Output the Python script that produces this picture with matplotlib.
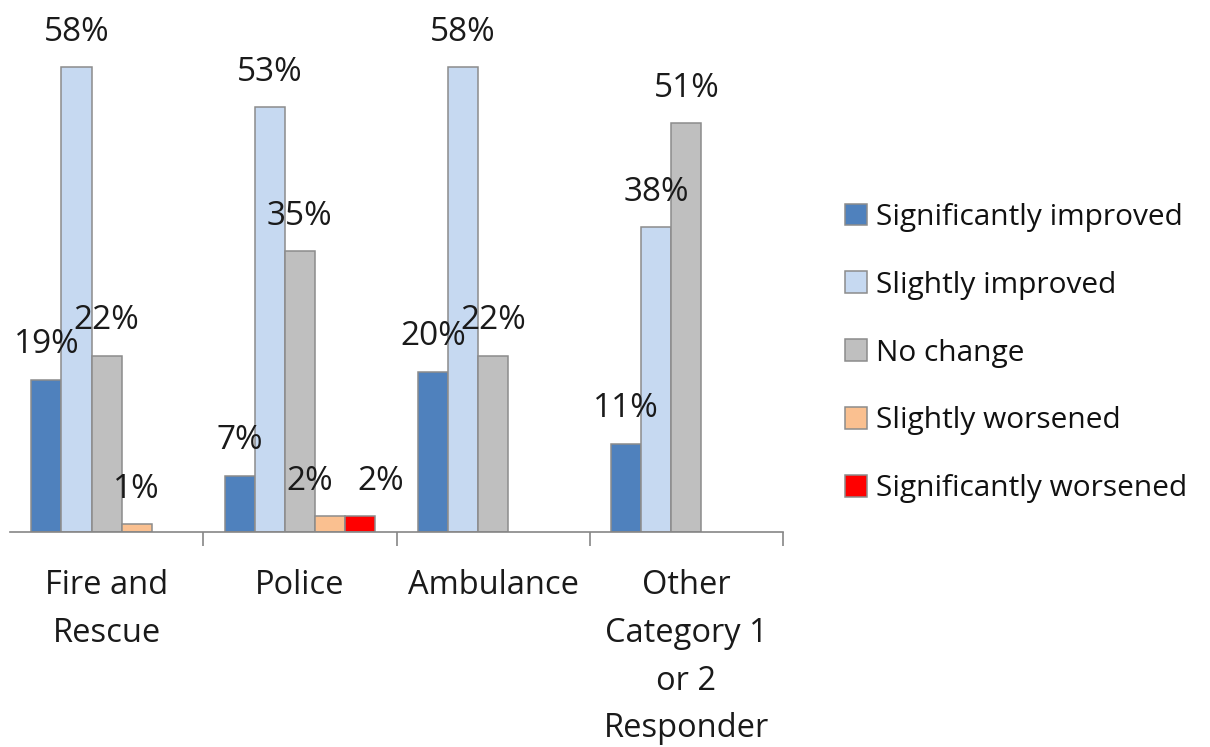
import matplotlib
matplotlib.use("Agg")
import matplotlib.pyplot as plt
import numpy as np

categories = ["Fire and\nRescue", "Police", "Ambulance", "Other\nCategory 1\nor 2\nResponder"]
series_names = ["Significantly improved", "Slightly improved", "No change",
                "Slightly worsened", "Significantly worsened"]
sig_improved = [19, 7, 20, 11]
slight_improved = [58, 53, 58, 38]
no_change = [22, 35, 22, 51]
slight_worsened = [1, 2, 0, 0]
sig_worsened = [0, 2, 0, 0]
series_values = [sig_improved, slight_improved, no_change, slight_worsened, sig_worsened]
colors = ["#4F81BD", "#C6D9F1", "#BFBFBF", "#FAC090", "#FF0000"]

plt.rcParams['font.family'] = ['Open Sans', 'DejaVu Sans']

W, H = 1210, 747
fig = plt.figure(figsize=(W / 100, H / 100), dpi=100)
left_px, right_px, base_px = 10, 783, 532
ymax = 60
px_per = (532 - 67) / 58.0
top_px = base_px - ymax * px_per
ax = fig.add_axes([left_px / W, (H - base_px) / H, (right_px - left_px) / W, (base_px - top_px) / H])

# label nudges (points) to avoid collisions, as the original chart does
nudge = {(3, 1): -15, (4, 1): 15}

x = np.arange(len(categories))
bw = 0.156
for i, (name, vals, c) in enumerate(zip(series_names, series_values, colors)):
    offs = (i - 2) * bw
    vals = np.array(vals, dtype=float)
    heights = np.where(vals > 0, vals, np.nan)
    ax.bar(x + offs, heights, width=bw, color=c, edgecolor="#8C8C8C", linewidth=1.1,
           label=name, zorder=2)
    for j, (xi, v) in enumerate(zip(x, vals)):
        if v > 0:
            ax.annotate(f"{int(v)}%", (xi + offs, v), xytext=(nudge.get((i, j), 0), 19),
                        textcoords="offset points", ha="center", va="baseline",
                        fontsize=24, color="#1a1a1a", zorder=5)

ax.set_xlim(-0.5, 3.5)
ax.set_ylim(0, ymax)
for s in ["top", "right", "left"]:
    ax.spines[s].set_visible(False)
ax.spines["bottom"].set_color("#868686")
ax.spines["bottom"].set_linewidth(1.2)
ax.set_yticks([])
ax.set_xticks([0.5, 1.5, 2.5, 3.5])
ax.set_xticklabels([])
ax.tick_params(axis="x", which="major", length=10, width=1.2, color="#868686", direction="out")
ax.set_xticks(x, minor=True)
ax.set_xticklabels(categories, minor=True, fontsize=23.5, color="#1a1a1a", linespacing=1.58)
ax.tick_params(axis="x", which="minor", length=0, pad=27)

leg = ax.legend(loc="center left", bbox_to_anchor=(845 / W, 1 - 353 / H),
                bbox_transform=fig.transFigure, frameon=False, fontsize=21.5,
                handlelength=0.75, handleheight=0.75, handletextpad=0.3,
                labelspacing=1.30, borderpad=0, borderaxespad=0)
for t in leg.get_texts():
    t.set_color("#111111")

fig.savefig("out.png", dpi=100)
